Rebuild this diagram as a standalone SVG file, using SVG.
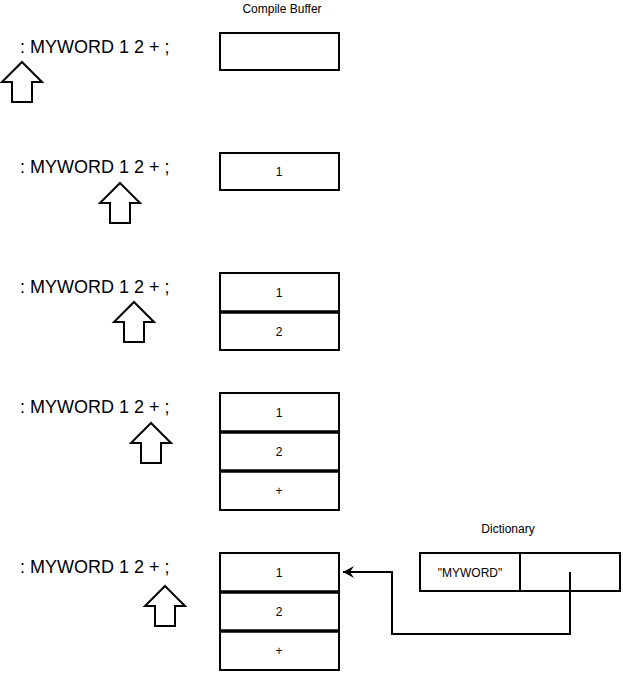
<svg xmlns="http://www.w3.org/2000/svg" width="623" height="674" viewBox="0 0 623 674">
<defs>
<style>
.code{font-family:"Liberation Sans",Arial,sans-serif;font-size:18px;fill:#000}
.lbl{font-family:"Liberation Sans",Arial,sans-serif;font-size:12px;fill:#000;text-anchor:middle}
.title{font-family:"Liberation Sans",Arial,sans-serif;font-size:12px;fill:#000;text-anchor:middle}
.box{fill:#fff;stroke:#000;stroke-width:2}
.div{stroke:#000;stroke-width:3.5}
.arr{fill:#fff;stroke:#000;stroke-width:2;stroke-linejoin:miter}
.conn{fill:none;stroke:#000;stroke-width:2}
</style>
<path id="up" d="M0,0 L20,20 L10,20 L10,40 L-10,40 L-10,20 L-20,20 Z"/>
<marker id="ah" markerWidth="14" markerHeight="14" refX="13" refY="6" orient="auto" markerUnits="userSpaceOnUse" viewBox="0 0 14 12">
<path d="M13,6 L2,0 L6,6 L2,12 Z" fill="#000"/>
</marker>
</defs>
<rect width="623" height="674" fill="#fff"/>
<text class="title" x="282" y="13">Compile Buffer</text>
<text class="title" x="508" y="533">Dictionary</text>

<g id="step1">
<text class="code" x="20" y="53">: MYWORD 1 2 + ;</text>
<use href="#up" class="arr" x="22" y="62"/>
<rect class="box" x="220" y="33" width="119" height="37"/>
</g>

<g id="step2">
<text class="code" x="20" y="173">: MYWORD 1 2 + ;</text>
<use href="#up" class="arr" x="120" y="183"/>
<rect class="box" x="220" y="153" width="119" height="37"/>
<text class="lbl" x="279" y="176">1</text>
</g>

<g id="step3">
<text class="code" x="20" y="293">: MYWORD 1 2 + ;</text>
<use href="#up" class="arr" x="134" y="302"/>
<rect class="box" x="220" y="273" width="119" height="77"/>
<line class="div" x1="220" y1="312" x2="339" y2="312"/>
<text class="lbl" x="279" y="297">1</text>
<text class="lbl" x="279" y="336">2</text>
</g>

<g id="step4">
<text class="code" x="20" y="413">: MYWORD 1 2 + ;</text>
<use href="#up" class="arr" x="151" y="423"/>
<rect class="box" x="220" y="393" width="119" height="117"/>
<line class="div" x1="220" y1="432" x2="339" y2="432"/>
<line class="div" x1="220" y1="471" x2="339" y2="471"/>
<text class="lbl" x="279" y="417">1</text>
<text class="lbl" x="279" y="456">2</text>
<text class="lbl" x="279" y="495">+</text>
</g>

<g id="step5">
<text class="code" x="20" y="573">: MYWORD 1 2 + ;</text>
<use href="#up" class="arr" x="165" y="586"/>
<rect class="box" x="220" y="553" width="119" height="117"/>
<line class="div" x1="220" y1="592" x2="339" y2="592"/>
<line class="div" x1="220" y1="631" x2="339" y2="631"/>
<text class="lbl" x="279" y="577">1</text>
<text class="lbl" x="279" y="616">2</text>
<text class="lbl" x="279" y="655">+</text>
</g>

<g id="dictionary">
<rect class="box" x="420" y="553" width="200" height="38"/>
<line class="conn" x1="520" y1="553" x2="520" y2="591"/>
<text class="lbl" x="470" y="577">"MYWORD"</text>
</g>

<g id="connectors">
<path class="conn" d="M570,572 L570,634 L392,634 L392,572 L343,572" marker-end="url(#ah)"/>
</g>
</svg>
